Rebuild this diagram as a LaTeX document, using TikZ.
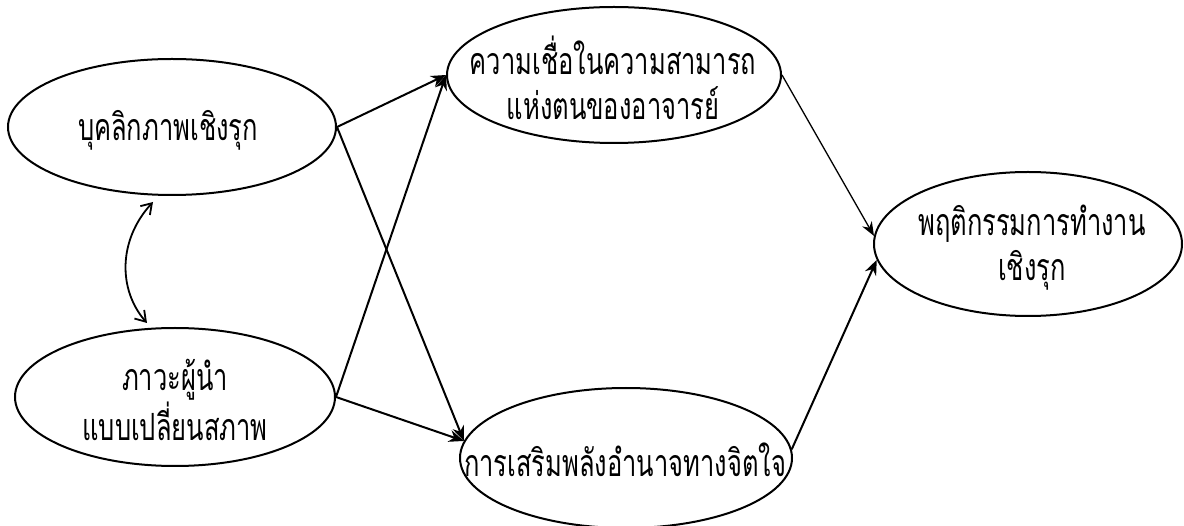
\documentclass[tikz,border=0pt]{standalone}
\usepackage{fontspec}
\newfontfamily\thaifont[Script=Thai,FakeStretch=0.68]{Loma}
\usetikzlibrary{shapes.geometric,arrows.meta}
\begin{document}
\begin{tikzpicture}[x=1pt,y=-1pt,
  oval/.style={draw,line width=2pt,ellipse,inner sep=0pt},
  txt/.style={font=\thaifont\fontsize{37.5}{45}\selectfont,align=center,inner sep=0pt},
  arr/.style={line width=2pt,-{Stealth[length=15pt,width=12pt]}},
  thinarr/.style={line width=1.3pt,-{Stealth[length=14pt,width=11pt]}},
  dbl/.style={line width=1.8pt,{Straight Barb[length=10pt,width=13pt]}-{Straight Barb[length=10pt,width=13pt]}}]
\useasboundingbox (0,0) rectangle (1184,526);
\node[oval,minimum width=328pt,minimum height=136pt] (e1) at (172,127) {};
\node[oval,minimum width=320pt,minimum height=138pt] (e2) at (175,397) {};
\node[oval,minimum width=334pt,minimum height=136pt] (e3) at (614,75) {};
\node[oval,minimum width=332pt,minimum height=140pt] (e4) at (626,458) {};
\node[oval,minimum width=308pt,minimum height=144pt] (e5) at (1028,244) {};
\node[txt] (t1) at (168,130) {บุคลิกภาพเชิงรุก};
\node[txt] (t2) at (175,400) {ภาวะผู้นำ\\แบบเปลี่ยนสภาพ};
\node[txt] (t3) at (613,78) {ความเชื่อในความสามารถ\\แห่งตนของอาจารย์};
\node[txt] (t4) at (625,460) {การเสริมพลังอำนาจทางจิตใจ};
\node[txt] (t5) at (1032,248) {พฤติกรรมการทำงาน\\เชิงรุก};
\draw[arr] (e1.east) -- (e3.west);
\draw[arr] (e1.east) -- (e4.174);
\draw[arr] (e2.east) -- (e3.west);
\draw[arr] (e2.east) -- (e4.174);
\draw[thinarr] (e3.east) -- (e5.177);
\draw[arr] (e4.3) -- (e5.186);
\coordinate (ca) at (153,202);
\coordinate (cb) at (147,323);
\draw[dbl] (ca) .. controls (118,240) and (118,290) .. (cb);
\end{tikzpicture}
\end{document}
